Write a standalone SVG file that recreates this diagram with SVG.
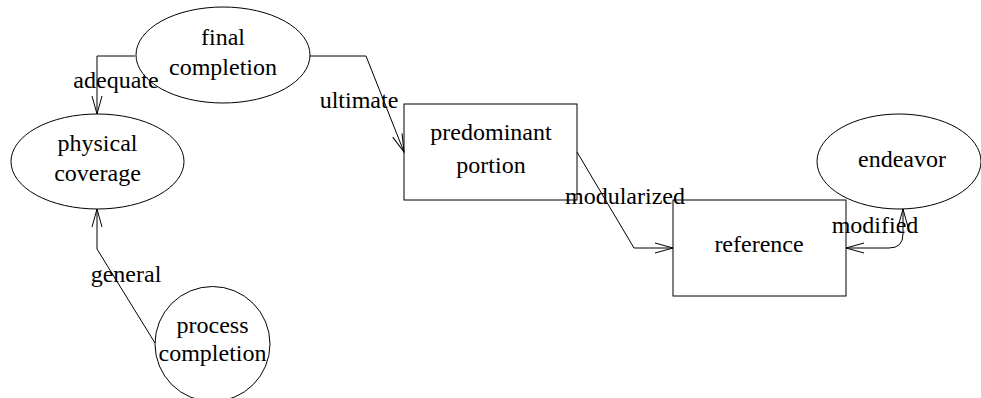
<svg xmlns="http://www.w3.org/2000/svg" width="981" height="398" viewBox="0 0 981 398">
<style>
text{font-family:"Liberation Serif","Times New Roman",serif;font-size:24px;fill:#000;text-anchor:middle}
.n{fill:#fff;stroke:#000;stroke-width:1}
.e{fill:none;stroke:#000;stroke-width:1}
</style>
<defs>
<marker id="a" markerUnits="userSpaceOnUse" markerWidth="20" markerHeight="12" refX="18" refY="6" orient="auto-start-reverse" overflow="visible">
<path d="M0,1 L18,6 L0,11" fill="none" stroke="#000" stroke-width="1"/>
</marker>
</defs>
<rect width="981" height="398" fill="#fff"/>
<g id="final-completion"><ellipse class="n" cx="223" cy="55" rx="87" ry="48"/><text x="223" y="45">final</text><text x="223" y="75">completion</text></g>
<g id="physical-coverage"><ellipse class="n" cx="97.5" cy="161.5" rx="86.5" ry="47.5"/><text x="97.5" y="151">physical</text><text x="97.5" y="181">coverage</text></g>
<g id="predominant-portion"><rect class="n" x="404" y="104" width="173" height="96"/><text x="491" y="140">predominant</text><text x="491" y="173">portion</text></g>
<g id="reference"><rect class="n" x="673" y="200" width="173" height="96"/><text x="759" y="252">reference</text></g>
<g id="endeavor"><ellipse class="n" cx="899" cy="161.5" rx="82" ry="47.5"/><text x="902" y="167">endeavor</text></g>
<g id="process-completion"><circle class="n" cx="212.5" cy="344" r="57.5"/><text x="212.5" y="333">process</text><text x="212.5" y="361">completion</text></g>
<g id="connectors">
<path class="e" d="M135,56 L97,56 L97,114" marker-end="url(#a)"/>
<path class="e" d="M310,56 L366,56 L404,152" marker-end="url(#a)"/>
<path class="e" d="M577,152 L634,248 L673,248" marker-end="url(#a)"/>
<path class="e" d="M903,209 L903,234 Q903,248 889,248 L846,248" marker-start="url(#a)" marker-end="url(#a)"/>
<path class="e" d="M155,343 L97,249 L97,209" marker-end="url(#a)"/>
<text x="116" y="88">adequate</text>
<text x="359" y="108">ultimate</text>
<text x="625" y="204">modularized</text>
<text x="875" y="233">modified</text>
<text x="126" y="282">general</text>
</g>
</svg>
